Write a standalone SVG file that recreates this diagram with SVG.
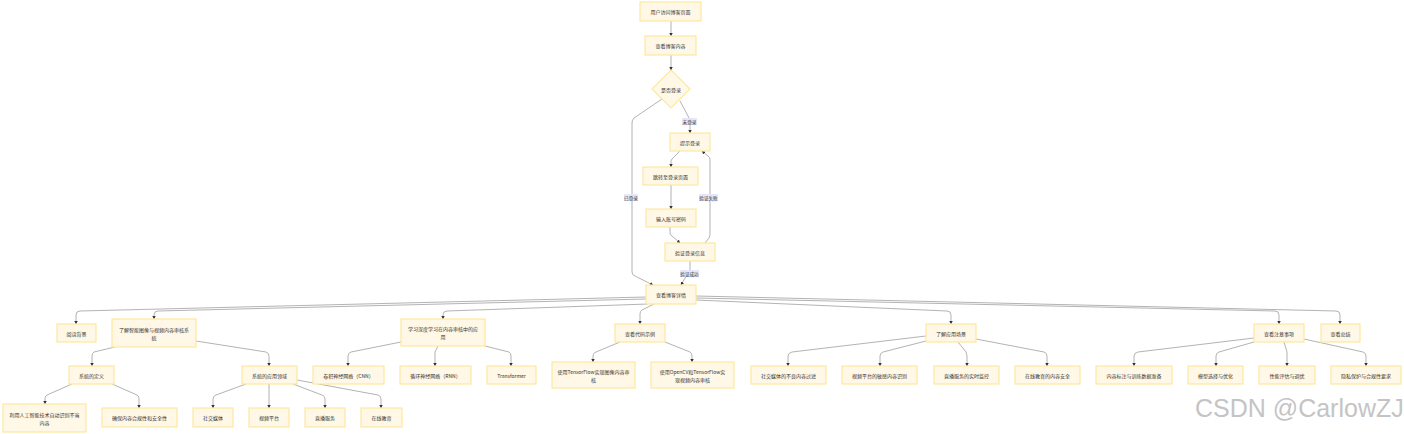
<svg xmlns="http://www.w3.org/2000/svg" width="1404" height="434" viewBox="0 0 1404 434">
<style>
.n rect,.n polygon{fill:#fff8e6;stroke:#fde8a0;stroke-width:1.2}
.n text{font-family:"Noto Sans CJK SC","Liberation Sans",sans-serif;font-size:5px;fill:#333;text-anchor:middle;dominant-baseline:central}
.e path{fill:none;stroke:#a0a0a0;stroke-width:0.8;marker-end:url(#ah)}
.lb rect{fill:#e6e6fa}
.lb text{font-family:"Noto Sans CJK SC","Liberation Sans",sans-serif;font-size:4.6px;fill:#333;text-anchor:middle;dominant-baseline:central}
.wm{font-family:"Liberation Sans",Arial,sans-serif;font-size:25px;fill:#c4c4c4}
</style>
<defs>
<marker id="ah" viewBox="0 0 10 10" refX="9" refY="5" markerUnits="userSpaceOnUse" markerWidth="3.5" markerHeight="3.5" orient="auto">
<path d="M0,0 L10,5 L0,10 z" fill="#333"/>
</marker>
</defs>
<g id="connectors" class="e">
<path d="M671,21 L671,36"/>
<path d="M671,55 L671,70"/>
<path d="M662,99 L634,118 Q632,120 632,123 L632,272 Q632,275 635,276 L653,285"/>
<path d="M680,101 L688,116 Q690,119 690,122 L690,133"/>
<path d="M680,151 L672,159 Q671,160 671,162 L671,167"/>
<path d="M671,185 L671,209"/>
<path d="M670,227 L670,233 Q670,235 672,236 L680,243"/>
<path d="M705,243 L709,238 Q710,236 710,234 L710,160 Q710,157 708,156 L702,151"/>
<path d="M690,261 L690,269 Q690,271 688,273 L681,285"/>
<path d="M646,297 L80,311 Q76,311 76,315 L76,324"/>
<path d="M646,299 L158,311 Q154,311 154,315 L154,319"/>
<path d="M648,304 L447,311 Q443,311 443,315 L443,319"/>
<path d="M654,304 L642,310 Q640,311 640,314 L640,324"/>
<path d="M696,300 L947,311 Q951,311 951,315 L951,324"/>
<path d="M696,298 L1275,311 Q1279,311 1279,315 L1279,324"/>
<path d="M696,296 L1336,311 Q1340,311 1340,315 L1340,324"/>
<path d="M115,347 L94,352 Q92,353 92,356 L92,366"/>
<path d="M196,341 L266,352 Q269,353 269,356 L269,366"/>
<path d="M72,384 L47,395 Q45,396 45,399 L45,404"/>
<path d="M112,384 L137,395 Q139,396 139,399 L139,408"/>
<path d="M246,384 L216,395 Q213,396 213,399 L213,408"/>
<path d="M269,384 L269,408"/>
<path d="M293,384 L322,395 Q325,396 325,399 L325,408"/>
<path d="M297,380 L378,395 Q381,396 381,399 L381,408"/>
<path d="M401,342 L351,352 Q348,353 348,356 L348,366"/>
<path d="M438,346 L435,352 L435,356 L435,366"/>
<path d="M485,346 L509,352 Q511,353 511,356 L511,366"/>
<path d="M620,342 L596,352 Q593,353 593,356 L593,362"/>
<path d="M665,342 L690,352 Q692,353 692,356 L692,362"/>
<path d="M926,336 L792,352 Q788,353 788,356 L788,366"/>
<path d="M926,341 L883,352 Q880,353 880,356 L880,366"/>
<path d="M958,342 L966,352 L967,356 L967,366"/>
<path d="M976,339 L1044,352 Q1047,353 1047,356 L1047,366"/>
<path d="M1254,338 L1138,352 Q1134,353 1134,356 L1134,366"/>
<path d="M1254,342 L1219,352 Q1216,353 1216,356 L1216,366"/>
<path d="M1284,342 L1287,352 L1287,356 L1287,366"/>
<path d="M1304,339 L1363,352 Q1366,353 1366,356 L1366,366"/>
</g>
<g id="edge-labels" class="lb">
<g><rect x="682" y="118" width="15" height="7"/><text x="689.5" y="121.5">未登录</text></g>
<g><rect x="624" y="194" width="14" height="7"/><text x="631" y="197.5">已登录</text></g>
<g><rect x="699" y="194" width="19" height="7"/><text x="708.5" y="197.5">验证失败</text></g>
<g><rect x="680" y="270" width="19" height="7"/><text x="689.5" y="273.5">验证成功</text></g>
</g>
<g id="n1" class="n"><rect x="640" y="2" width="61" height="19"/><text x="670.5" y="11.5">用户访问博客页面</text></g>
<g id="n2" class="n"><rect x="645" y="36" width="51" height="19"/><text x="670.5" y="45.5">查看博客内容</text></g>
<g id="n3" class="n"><polygon points="671,70 690,89 671,108 652,89"/><text x="671" y="89">是否登录</text></g>
<g id="n4" class="n"><rect x="670" y="133" width="40" height="18"/><text x="690" y="142">提示登录</text></g>
<g id="n5" class="n"><rect x="643" y="167" width="55" height="18"/><text x="670.5" y="176">跳转至登录页面</text></g>
<g id="n6" class="n"><rect x="646" y="209" width="50" height="18"/><text x="671" y="218">输入账号密码</text></g>
<g id="n7" class="n"><rect x="665" y="243" width="50" height="18"/><text x="690" y="252">验证登录信息</text></g>
<g id="n8" class="n"><rect x="646" y="285" width="50" height="19"/><text x="671" y="294.5">查看博客详情</text></g>
<g id="a1" class="n"><rect x="57" y="324" width="39" height="18"/><text x="76.5" y="333">阅读背景</text></g>
<g id="a2" class="n"><rect x="112" y="319" width="84" height="28"/><text x="154" y="329">了解智能图像与视频内容审核系</text><text x="154" y="337">统</text></g>
<g id="a3" class="n"><rect x="401" y="319" width="84" height="27"/><text x="443" y="328.5">学习深度学习在内容审核中的应</text><text x="443" y="336.5">用</text></g>
<g id="a4" class="n"><rect x="615" y="324" width="50" height="18"/><text x="640" y="333">查看代码示例</text></g>
<g id="a5" class="n"><rect x="926" y="324" width="50" height="18"/><text x="951" y="333">了解应用场景</text></g>
<g id="a6" class="n"><rect x="1254" y="324" width="50" height="18"/><text x="1279" y="333">查看注意事项</text></g>
<g id="a7" class="n"><rect x="1321" y="324" width="39" height="18"/><text x="1340.5" y="333">查看总结</text></g>
<g id="b1" class="n"><rect x="69" y="366" width="45" height="18"/><text x="91.5" y="375">系统的定义</text></g>
<g id="b2" class="n"><rect x="242" y="366" width="55" height="18"/><text x="269.5" y="375">系统的应用领域</text></g>
<g id="b3" class="n"><rect x="313" y="366" width="71" height="18"/><text x="348.5" y="375">卷积神经网络（CNN）</text></g>
<g id="b4" class="n"><rect x="400" y="366" width="71" height="18"/><text x="435.5" y="375">循环神经网络（RNN）</text></g>
<g id="b5" class="n"><rect x="487" y="366" width="49" height="18"/><text x="511.5" y="375">Transformer</text></g>
<g id="b6" class="n"><rect x="552" y="362" width="83" height="26"/><text x="593.5" y="371">使用TensorFlow实现图像内容审</text><text x="593.5" y="379">核</text></g>
<g id="b7" class="n"><rect x="651" y="362" width="83" height="26"/><text x="692.5" y="371">使用OpenCV和TensorFlow实</text><text x="692.5" y="379">现视频内容审核</text></g>
<g id="b8" class="n"><rect x="751" y="366" width="75" height="18"/><text x="788.5" y="375">社交媒体的不良内容过滤</text></g>
<g id="b9" class="n"><rect x="842" y="366" width="75" height="18"/><text x="879.5" y="375">视频平台的敏感内容识别</text></g>
<g id="b10" class="n"><rect x="934" y="366" width="65" height="18"/><text x="966.5" y="375">直播服务的实时监控</text></g>
<g id="b11" class="n"><rect x="1015" y="366" width="65" height="18"/><text x="1047.5" y="375">在线教育的内容安全</text></g>
<g id="b12" class="n"><rect x="1096" y="366" width="76" height="18"/><text x="1134" y="375">内容标注与训练数据准备</text></g>
<g id="b13" class="n"><rect x="1188" y="366" width="55" height="18"/><text x="1215.5" y="375">模型选择与优化</text></g>
<g id="b14" class="n"><rect x="1259" y="366" width="56" height="18"/><text x="1287" y="375">性能评估与调优</text></g>
<g id="b15" class="n"><rect x="1331" y="366" width="70" height="18"/><text x="1366" y="375">隐私保护与合规性要求</text></g>
<g id="c1" class="n"><rect x="3" y="404" width="83" height="28"/><text x="44.5" y="414">利用人工智能技术自动识别不当</text><text x="44.5" y="422">内容</text></g>
<g id="c2" class="n"><rect x="102" y="408" width="75" height="19"/><text x="139.5" y="417.5">确保内容合规性和安全性</text></g>
<g id="c3" class="n"><rect x="193" y="408" width="40" height="19"/><text x="213" y="417.5">社交媒体</text></g>
<g id="c4" class="n"><rect x="249" y="408" width="40" height="19"/><text x="269" y="417.5">视频平台</text></g>
<g id="c5" class="n"><rect x="305" y="408" width="40" height="19"/><text x="325" y="417.5">直播服务</text></g>
<g id="c6" class="n"><rect x="361" y="408" width="41" height="19"/><text x="381.5" y="417.5">在线教育</text></g>
<text class="wm" x="1195" y="417">CSDN @CarlowZJ</text>
</svg>
